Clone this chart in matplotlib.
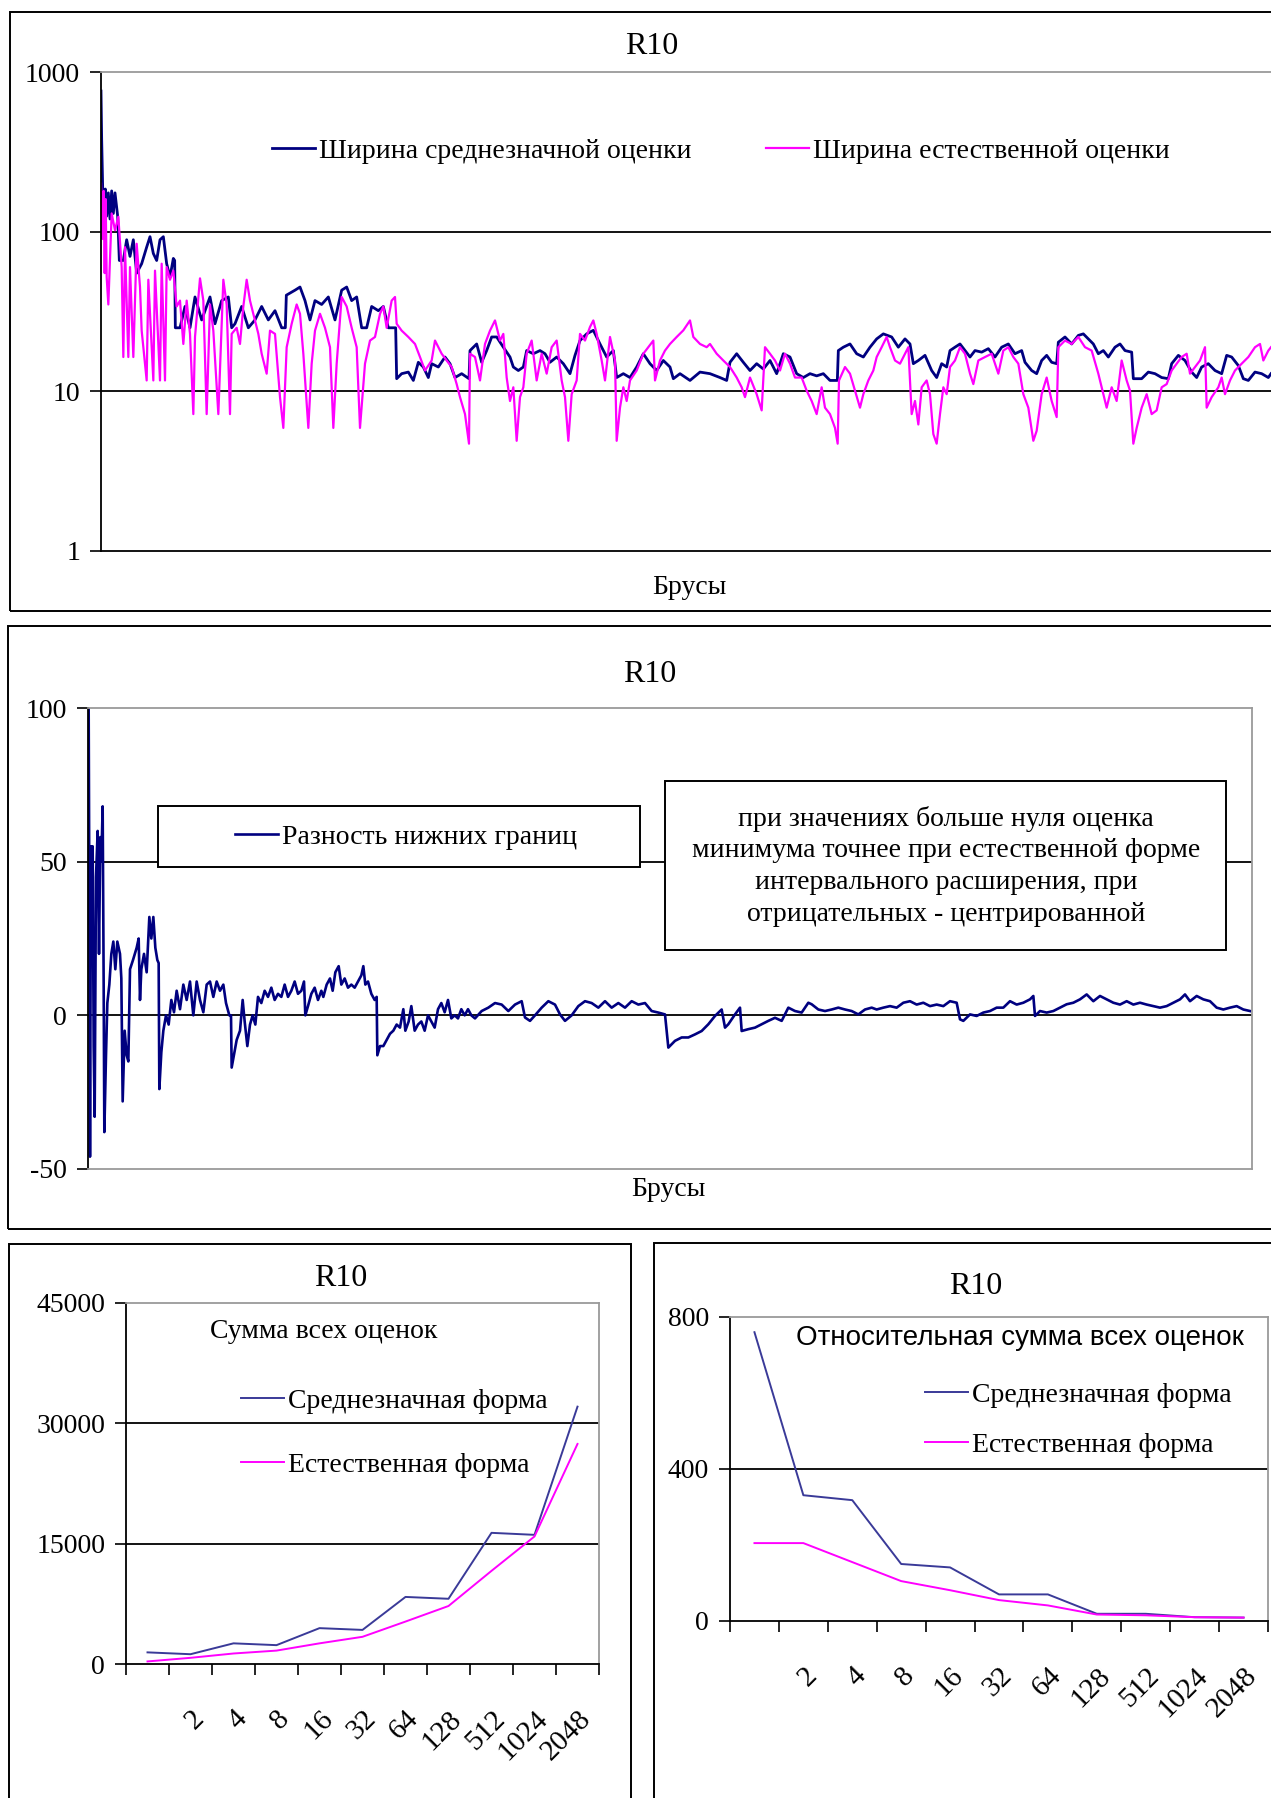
import matplotlib
matplotlib.use("Agg")
from matplotlib import pyplot as plt
from matplotlib.patches import Rectangle
from matplotlib.ticker import NullLocator, FixedLocator
import numpy as np

plt.rcParams['font.family'] = ['Liberation Serif', 'DejaVu Serif']

# ---- data ----
# panel 1: interval widths (bar number, width), log scale
width_mean = [
    (0, 760), (2, 380), (5, 190), (9, 140), (13, 185), (17, 125), (22, 175), (27, 120), (32, 180), (37, 130),
    (42, 175), (50, 125), (55, 66), (67, 66), (77, 89), (87, 70), (97, 89), (107, 55), (122, 63), (137, 80),
    (147, 93), (157, 73), (167, 66), (177, 89), (187, 93), (197, 63), (207, 52), (217, 68), (221, 66), (223, 25),
    (237, 25), (252, 34), (267, 25), (282, 39), (302, 28), (327, 39), (342, 26.5), (362, 37), (382, 39), (392, 25),
    (402, 26.5), (422, 34), (442, 25), (462, 28), (482, 34), (502, 28), (522, 32), (542, 25), (553, 25), (556, 40),
    (582, 43), (597, 45), (612, 37), (627, 28), (642, 37), (662, 35), (682, 39), (702, 28), (722, 43), (737, 45),
    (752, 37), (767, 39), (782, 25), (797, 25), (812, 34), (832, 32), (847, 34), (862, 25), (884, 25), (887, 12),
    (902, 12.9), (922, 13.2), (937, 11.7), (952, 15.2), (967, 14.2), (982, 12.2), (992, 14.9), (1012, 14.2),
    (1032, 16.4), (1047, 14.9), (1062, 12.2), (1082, 12.9), (1104, 12), (1107, 18), (1127, 19.8), (1142, 15.2),
    (1157, 18), (1172, 21.9), (1187, 21.9), (1207, 18.9), (1227, 16.4), (1237, 14.2), (1252, 13.5), (1267, 14.2),
    (1277, 18), (1297, 17.2), (1317, 18), (1332, 17.2), (1347, 15.2), (1367, 16.4), (1387, 14.9), (1407, 12.9),
    (1422, 16.8), (1437, 20.8), (1457, 22.9), (1477, 24.1), (1497, 19.8), (1517, 16.4), (1537, 18), (1547, 12.2),
    (1567, 12.9), (1587, 12.2), (1607, 14.2), (1627, 17.2), (1647, 14.9), (1667, 13.5), (1687, 15.6), (1707, 14.2),
    (1717, 12), (1737, 12.9), (1767, 11.7), (1797, 13.2), (1827, 12.9), (1857, 12.2), (1877, 11.7), (1887, 15.2),
    (1907, 17.2), (1927, 15.2), (1947, 13.5), (1967, 14.9), (1987, 13.8), (2007, 15.6), (2027, 12.9), (2047, 17.2),
    (2067, 16.4), (2087, 12.9), (2107, 12.2), (2127, 12.9), (2147, 12.5), (2167, 12.9), (2187, 11.7), (2209, 11.7),
    (2212, 18), (2227, 18.9), (2247, 19.8), (2267, 17.2), (2287, 16.4), (2307, 18.9), (2327, 21.3), (2347, 22.9),
    (2372, 21.9), (2392, 18.9), (2412, 21.3), (2427, 19.8), (2437, 14.9), (2452, 15.6), (2472, 16.8), (2492, 13.5),
    (2507, 12.2), (2522, 14.9), (2537, 14.2), (2547, 18), (2562, 18.9), (2577, 19.8), (2592, 18), (2607, 16.4),
    (2622, 18), (2642, 17.6), (2662, 18.5), (2682, 16.4), (2702, 18.9), (2722, 19.8), (2742, 17.2), (2762, 18),
    (2772, 15.2), (2792, 13.5), (2807, 12.9), (2822, 15.6), (2837, 16.8), (2852, 15.2), (2867, 14.9), (2872, 20.3),
    (2892, 21.9), (2912, 19.8), (2932, 22.4), (2947, 22.9), (2962, 21.3), (2977, 19.8), (2992, 17.2), (3007, 18),
    (3022, 16.4), (3042, 18.9), (3057, 19.8), (3072, 18), (3092, 17.6), (3097, 12), (3122, 12), (3142, 13.2),
    (3162, 12.9), (3182, 12.2), (3202, 12), (3212, 14.9), (3232, 16.8), (3252, 15.6), (3272, 13.2), (3287, 12.2),
    (3302, 14.2), (3322, 14.9), (3342, 13.5), (3362, 12.9), (3377, 16.8), (3392, 16.4), (3412, 14.5), (3427, 12),
    (3442, 11.7), (3462, 13.2), (3482, 12.9), (3502, 12.2), (3510, 12.9),
]

width_natural = [
    (0, 200), (2, 140), (5, 90), (8, 180), (11, 55), (14, 160), (17, 52), (22, 35), (32, 130), (42, 102),
    (52, 124), (62, 60), (67, 16.4), (72, 80), (82, 16.4), (87, 60), (97, 16.4), (107, 84), (117, 45), (122, 24),
    (137, 11.7), (142, 50), (157, 11.7), (162, 57), (177, 11.7), (182, 63), (192, 11.7), (197, 60), (207, 50),
    (217, 57), (227, 34), (237, 37), (247, 19.8), (257, 37), (267, 22.9), (277, 7.2), (282, 21.9), (297, 51),
    (307, 37), (317, 7.2), (327, 35), (337, 24), (352, 7.2), (367, 50), (377, 35), (387, 7.2), (392, 22.9),
    (407, 25), (417, 19.8), (427, 34), (437, 50), (447, 37), (457, 30.6), (472, 22.9), (482, 17.2), (497, 12.9),
    (507, 24), (522, 22.9), (537, 9.2), (547, 5.9), (557, 18.9), (572, 26.5), (587, 35), (597, 30.6), (607, 17.2),
    (622, 5.9), (632, 14.9), (642, 24), (657, 30.6), (672, 25), (687, 18.9), (697, 5.9), (707, 14.9), (722, 39),
    (737, 34), (752, 25), (767, 18.9), (777, 5.9), (792, 14.9), (807, 20.8), (822, 21.9), (837, 30.6), (847, 34),
    (857, 25), (872, 37), (882, 39), (887, 26.5), (902, 24), (922, 21.9), (942, 19.8), (957, 16.4), (972, 13.5),
    (992, 15.6), (1002, 20.8), (1022, 17.2), (1037, 15.6), (1052, 14.2), (1067, 11.1), (1077, 9.2), (1092, 7.2),
    (1104, 4.7), (1107, 17.2), (1122, 16.4), (1137, 11.7), (1152, 19.8), (1167, 24), (1182, 27.8), (1197, 20.8),
    (1207, 22.9), (1217, 12.2), (1227, 8.7), (1237, 10.6), (1247, 4.9), (1257, 9.2), (1267, 10.6), (1277, 17.2),
    (1292, 20.8), (1307, 11.7), (1322, 17.2), (1337, 12.9), (1352, 18.9), (1367, 20.8), (1382, 11.7), (1392, 9.2),
    (1402, 4.9), (1412, 9.6), (1427, 11.7), (1437, 22.9), (1452, 20.8), (1467, 25.3), (1477, 27.8), (1487, 22.9),
    (1502, 15.6), (1512, 11.7), (1527, 21.9), (1542, 15.6), (1547, 4.9), (1557, 7.9), (1567, 10.6), (1577, 8.7),
    (1587, 11.7), (1607, 13.5), (1627, 17.2), (1642, 18.9), (1657, 20.8), (1662, 11.7), (1677, 15.6), (1692, 18),
    (1707, 19.8), (1727, 21.9), (1747, 24.1), (1767, 27.8), (1777, 21.9), (1797, 19.8), (1817, 18.9), (1827, 19.8),
    (1847, 17.2), (1867, 15.6), (1887, 14.2), (1907, 12.2), (1922, 10.6), (1932, 9.2), (1947, 12.2), (1967, 9.6),
    (1982, 7.6), (1992, 18.9), (2007, 17.2), (2022, 15.6), (2037, 13.5), (2052, 17.2), (2067, 14.9), (2082, 12.2),
    (2102, 12.2), (2117, 10.1), (2132, 8.7), (2147, 7.2), (2162, 10.6), (2172, 7.9), (2187, 7.2), (2202, 5.9),
    (2210, 4.7), (2214, 11.7), (2232, 14.2), (2247, 12.9), (2262, 10.1), (2277, 7.9), (2287, 9.6), (2302, 11.7),
    (2317, 13.5), (2327, 16.4), (2342, 18.9), (2357, 21.9), (2367, 18.9), (2382, 15.6), (2397, 14.9), (2412, 17.2),
    (2422, 18.9), (2432, 7.2), (2442, 8.7), (2452, 6.2), (2462, 10.6), (2477, 11.7), (2487, 9.6), (2497, 5.4),
    (2507, 4.7), (2517, 7.2), (2527, 10.6), (2537, 9.6), (2547, 14.2), (2562, 15.6), (2577, 18.9), (2592, 17.2),
    (2607, 12.9), (2617, 11.1), (2632, 15.6), (2652, 16.4), (2672, 17.2), (2692, 12.9), (2707, 18), (2722, 18.9),
    (2737, 16.4), (2752, 14.9), (2767, 9.6), (2782, 7.9), (2797, 4.9), (2807, 5.66), (2822, 9.6), (2837, 12.2),
    (2852, 8.7), (2867, 6.9), (2872, 18.9), (2892, 20.8), (2912, 19.8), (2932, 21.9), (2952, 18.9), (2972, 18),
    (2992, 12.9), (3007, 9.6), (3017, 7.9), (3032, 10.6), (3047, 8.7), (3062, 15.6), (3077, 11.7), (3087, 10.1),
    (3097, 4.7), (3107, 5.9), (3122, 7.9), (3137, 9.6), (3152, 7.2), (3167, 7.6), (3182, 10.6), (3197, 11.1),
    (3212, 13.5), (3227, 14.9), (3242, 16.4), (3257, 17.2), (3267, 12.9), (3282, 14.2), (3297, 15.6), (3312, 18.9),
    (3317, 7.9), (3332, 9.2), (3352, 10.6), (3362, 12.2), (3372, 9.6), (3387, 11.7), (3402, 13.5), (3422, 14.9),
    (3442, 16.4), (3462, 18.9), (3477, 19.8), (3487, 15.6), (3502, 18), (3510, 18.9),
]

# panel 2: difference of lower bounds (bar number, value)
lower_diff = [
    (0, 30), (2, 100), (4, 40), (6, -46), (9, 55), (12, 25), (14, 55), (17, -10), (20, -33), (24, 45),
    (29, 60), (33, 20), (37, 58), (40, 50), (44, 68), (47, 10), (49, -38), (54, -13), (58, 4), (64, 10),
    (70, 20), (76, 24), (82, 15), (88, 24), (96, 20), (100, 12), (104, -28), (110, -5), (116, -13), (121, -15),
    (126, 15), (135, 18), (146, 22), (152, 25), (156, 5), (160, 15), (168, 20), (176, 14), (184, 32), (190, 25),
    (196, 32), (202, 22), (208, 18), (212, 17), (214, -24), (220, -12), (226, -5), (234, 0), (242, -3), (250, 5),
    (258, 1), (266, 8), (276, 2), (286, 10), (296, 5), (306, 11), (316, 0), (326, 11), (336, 5), (346, 1),
    (356, 10), (366, 11), (376, 6), (386, 11), (396, 8), (406, 10), (414, 4), (424, 0), (429, 0), (431, -17),
    (436, -14), (446, -8), (456, -5), (464, 5), (470, -2), (478, -10), (486, -3), (494, 0), (502, -3), (510, 6),
    (520, 4), (530, 8), (540, 6), (550, 9), (560, 5), (570, 7), (580, 6), (590, 10), (600, 6), (610, 8),
    (620, 11), (630, 7), (640, 8), (648, 11), (652, 0), (660, 3), (670, 7), (680, 9), (690, 5), (700, 8),
    (706, 6), (716, 10), (726, 12), (734, 8), (742, 14), (752, 16), (760, 10), (770, 12), (780, 9), (790, 10),
    (800, 9), (810, 11), (820, 13), (826, 16), (832, 10), (840, 11), (850, 7), (860, 5), (866, 6), (868, -13),
    (876, -10), (886, -10), (896, -8), (906, -6), (916, -5), (926, -3), (936, -4), (946, 2), (952, -5), (962, -2),
    (970, 3), (980, -5), (990, -3), (1000, -2), (1010, -5), (1020, 0), (1030, -2), (1040, -4), (1050, 2), (1060, 4),
    (1070, 1), (1080, 5), (1090, -1), (1100, 0), (1110, -1), (1120, 2), (1130, 0), (1140, 2), (1150, 0), (1161, -1),
    (1181, 1.4), (1201, 2.5), (1221, 4), (1241, 3.5), (1261, 1.4), (1281, 3.5), (1301, 4.6), (1311, -0.7),
    (1326, -1.8), (1341, 0), (1361, 2.5), (1381, 4.6), (1401, 3.5), (1416, 0.3), (1431, -1.8), (1451, 0),
    (1471, 3), (1491, 4.6), (1511, 4), (1531, 2.5), (1551, 4.6), (1571, 2.5), (1591, 4), (1611, 2.5), (1631, 4.6),
    (1651, 3.5), (1671, 4), (1691, 1.4), (1711, 0.9), (1731, 0.3), (1741, -10.5), (1761, -8.3), (1781, -7.2),
    (1801, -7.2), (1821, -6.2), (1841, -5.1), (1861, -2.9), (1881, -0.2), (1901, 1.9), (1911, -4), (1921, -2.9),
    (1941, 0.3), (1956, 2.5), (1961, -5.1), (1981, -4.5), (2001, -4), (2021, -2.9), (2041, -1.8), (2061, -0.8),
    (2081, -1.8), (2101, 2.5), (2121, 1.4), (2141, 0.9), (2161, 4.1), (2171, 3.6), (2191, 1.9), (2211, 1.4),
    (2231, 1.9), (2251, 2.5), (2271, 1.9), (2291, 1.4), (2311, 0.3), (2331, 1.9), (2351, 2.5), (2366, 1.9),
    (2386, 2.5), (2406, 3), (2426, 2.5), (2446, 4.1), (2466, 4.6), (2486, 3.5), (2506, 4.1), (2526, 3), (2546, 3.5),
    (2566, 3), (2586, 4.6), (2606, 4.1), (2616, -1.3), (2626, -1.8), (2646, 0.3), (2666, -0.2), (2686, 0.9),
    (2706, 1.4), (2726, 2.5), (2746, 2.5), (2766, 4.6), (2786, 3.5), (2806, 4.1), (2826, 5.2), (2836, 6.3),
    (2841, -0.2), (2856, 1.4), (2876, 0.9), (2896, 1.4), (2916, 2.5), (2936, 3.6), (2956, 4.1), (2976, 5.2),
    (2996, 6.8), (3016, 4.6), (3036, 6.3), (3056, 5.2), (3076, 4.1), (3096, 3.5), (3116, 4.6), (3136, 3.5),
    (3156, 4.1), (3176, 3.5), (3196, 3), (3216, 2.5), (3236, 3), (3256, 4.1), (3276, 5.2), (3291, 6.8), (3306, 4.6),
    (3326, 6.3), (3346, 5.2), (3366, 4.6), (3386, 2.5), (3406, 1.9), (3426, 2.5), (3446, 3), (3466, 1.9), (3486, 1.4),
]

# panels 3, 4
cat_labels = ['', '2', '4', '8', '16', '32', '64', '128', '512', '1024', '2048']
sum_mean = [1450, 1220, 2575, 2350, 4470, 4250, 8360, 8130, 16350, 16100, 32080]
sum_natural = [320, 770, 1310, 1670, 2575, 3390, 5290, 7230, 11610, 15900, 27430]
rel_mean = [760, 331, 318, 150, 141, 70, 70, 19, 19, 10, 9]
rel_natural = [205, 205, 155, 105, 81, 55, 41, 17, 15, 10, 9]

title = 'R10'
bars_label = 'Брусы'
note_lines = ['при значениях больше нуля оценка',
              'минимума точнее при естественной форме',
              'интервального расширения, при',
              'отрицательных - центрированной']

NAVY = '#000080'
MAGENTA = '#ff00ff'
BLUE2 = '#3a3a98'
GRAY = '#9a9a9a'

W, H = 1271, 1798
fig = plt.figure(figsize=(W / 100, H / 100), dpi=100)


def fx(px):
    return px / W


def fy(py):
    return 1 - py / H


def axes_at(left, top, right, bottom):
    return fig.add_axes([fx(left), fy(bottom), (right - left) / W, (bottom - top) / H])


def style(ax, gray_sides):
    for side in ['left', 'right', 'top', 'bottom']:
        ax.spines[side].set_color(GRAY if side in gray_sides else 'black')
        ax.spines[side].set_linewidth(1.3)
    ax.tick_params(axis='y', direction='out', length=8, width=1.2, pad=7, labelsize=20)
    ax.yaxis.set_minor_locator(NullLocator())


def legend_entry(handle, label, x, y, size=20):
    leg = fig.legend(handles=[handle], labels=[label], loc='center left',
                     bbox_to_anchor=(fx(x), fy(y)), frameon=False, borderpad=0,
                     borderaxespad=0, handlelength=1.55, handletextpad=0.15, fontsize=size)
    return leg


def box(x0, y0, x1, y1, fill=False, z=10):
    r = Rectangle((fx(x0), fy(y1)), (x1 - x0) / W, (y1 - y0) / H, transform=fig.transFigure,
                  facecolor='white' if fill else 'none', edgecolor='black', lw=1.4, zorder=z)
    fig.add_artist(r)


# ---- panel 1 ----
ax1 = axes_at(101, 72, 1321, 551)
b, v = zip(*width_mean)
l_mean, = ax1.plot(b, v, color=NAVY, lw=2.0)
b, v = zip(*width_natural)
l_nat, = ax1.plot(b, v, color=MAGENTA, lw=1.6)
ax1.set_yscale('log')
ax1.set_ylim(1, 1000)
ax1.set_xlim(0, 3660)
for g in [10, 100]:
    ax1.axhline(g, color='black', lw=1.3, zorder=1)
style(ax1, ['top'])
ax1.set_yticks([1, 10, 100, 1000], ['1', '10', '100', '1000'])
ax1.yaxis.set_minor_locator(NullLocator())
ax1.set_xticks([])
fig.text(fx(652), fy(47), title, ha='center', va='center', fontsize=23)
fig.text(fx(689), fy(588), bars_label, ha='center', va='center', fontsize=20)
legend_entry(l_mean, 'Ширина среднезначной оценки', 272, 151)
legend_entry(l_nat, 'Ширина естественной оценки', 766, 151)

# ---- panel 2 ----
ax2 = axes_at(88, 708, 1252, 1169)
b, v = zip(*lower_diff)
l_diff, = ax2.plot(b, v, color=NAVY, lw=1.9)
ax2.set_ylim(-50, 100)
ax2.set_xlim(0, 3492)
for g in [0, 50]:
    ax2.axhline(g, color='black', lw=1.3, zorder=1)
style(ax2, ['top', 'right', 'bottom'])
ax2.set_yticks([-50, 0, 50, 100], ['-50', '0', '50', '100'])
ax2.set_xticks([])
fig.text(fx(650), fy(675), title, ha='center', va='center', fontsize=23)
fig.text(fx(668), fy(1190), bars_label, ha='center', va='center', fontsize=20)
box(158, 806, 640, 867, fill=True, z=3)
legend_entry(l_diff, 'Разность нижних границ', 235, 837)
box(665, 781, 1226, 950, fill=True, z=3)
for i, line in enumerate(note_lines):
    fig.text(fx(946), fy(819 + i * 31.7), line, ha='center', va='center', fontsize=20, zorder=4)


# ---- panels 3 and 4 ----
def category_axis(ax):
    n = len(cat_labels)
    ax.set_xlim(0, n)
    ax.xaxis.set_major_locator(FixedLocator(range(n + 1)))
    ax.xaxis.set_major_formatter(plt.NullFormatter())
    ax.set_xticks(np.arange(n) + 0.5, cat_labels, minor=True)
    ax.tick_params(axis='x', which='major', direction='out', length=8, width=1.2)
    ax.tick_params(axis='x', which='minor', length=0, pad=30, labelsize=21)
    for t in ax.get_xticklabels(minor=True):
        t.set_rotation(45)
        t.set_ha('right')
        t.set_va('top')
        t.set_rotation_mode('anchor')


cats = np.arange(len(cat_labels)) + 0.5

ax3 = axes_at(126, 1303, 599, 1664)
m3, = ax3.plot(cats, sum_mean, color=BLUE2, lw=1.4)
n3, = ax3.plot(cats, sum_natural, color=MAGENTA, lw=1.4)
ax3.set_ylim(0, 45000)
for g in [15000, 30000]:
    ax3.axhline(g, color='black', lw=1.3, zorder=1)
style(ax3, ['top', 'right'])
ax3.set_yticks([0, 15000, 30000, 45000], ['0', '15000', '30000', '45000'])
category_axis(ax3)
fig.text(fx(341), fy(1279), title, ha='center', va='center', fontsize=23)
fig.text(fx(210), fy(1331), 'Сумма всех оценок', ha='left', va='center', fontsize=20)
legend_entry(m3, 'Среднезначная форма', 241, 1401)
legend_entry(n3, 'Естественная форма', 241, 1465)

ax4 = axes_at(730, 1317, 1268, 1621)
m4, = ax4.plot(cats, rel_mean, color=BLUE2, lw=1.4)
n4, = ax4.plot(cats, rel_natural, color=MAGENTA, lw=1.4)
ax4.set_ylim(0, 800)
ax4.axhline(400, color='black', lw=1.3, zorder=1)
style(ax4, ['top', 'right'])
ax4.set_yticks([0, 400, 800], ['0', '400', '800'])
category_axis(ax4)
fig.text(fx(976), fy(1287), title, ha='center', va='center', fontsize=23)
fig.text(fx(796), fy(1338), 'Относительная сумма всех оценок', ha='left', va='center',
         fontsize=20, family=['Liberation Sans', 'DejaVu Sans'])
legend_entry(m4, 'Среднезначная форма', 925, 1395)
legend_entry(n4, 'Естественная форма', 925, 1445)

# outer frames of the four pictures
box(10, 12, 1300, 611)
box(8, 626, 1300, 1229)
box(9, 1244, 631, 1830)
box(654, 1243, 1300, 1830)

fig.savefig('out.png', dpi=100)
